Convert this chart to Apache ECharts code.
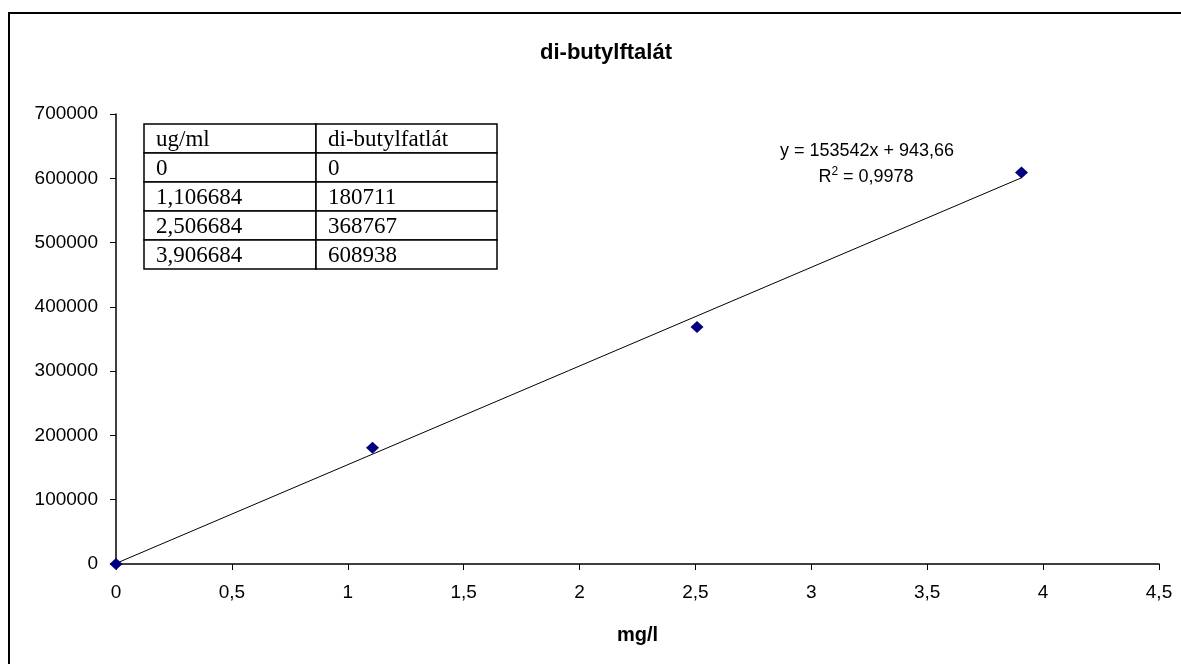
<!DOCTYPE html>
<html>
<head>
<meta charset="utf-8">
<title>di-butylftalát</title>
<script src="https://cdn.jsdelivr.net/npm/echarts@6/dist/echarts.min.js"></script>
<style>
  html, body { margin: 0; padding: 0; background: #fff; }
  #chart { width: 1181px; height: 664px; }
</style>
</head>
<body>
<div id="chart"></div>
<script>
// kalibrace: koncentrace vs. plocha piku
const concentrations = [0, 1.106684, 2.506684, 3.906684];
const responses = [0, 180711, 368767, 608938];
const tableHeader = ['ug/ml', 'di-butylfatlát'];
// lineární trend (z grafu)
const trendSlope = 153542;
const trendIntercept = 943.66;
const trendR2 = 0.9978;

const sans = 'Arial, "Liberation Sans", sans-serif';
const serif = '"Times New Roman", "Liberation Serif", serif';
const comma = v => String(v).replace('.', ',');

let myChart = echarts.init(document.getElementById('chart'));

// trend line from min x to max x
let xMin = Math.min(...concentrations);
let xMax = Math.max(...concentrations);
let trendData = [
  [xMin, trendSlope * xMin + trendIntercept],
  [xMax, trendSlope * xMax + trendIntercept]
];

// table drawn as graphic
let tbl = { left: 144, top: 124, split: 316, right: 497, rowH: 29 };
let rows = [tableHeader].concat(concentrations.map((c, i) => [comma(c), String(responses[i])]));
let tableEls = [];
rows.forEach((r, i) => {
  let y = tbl.top + i * tbl.rowH;
  [[tbl.left, tbl.split], [tbl.split, tbl.right]].forEach((col, j) => {
    tableEls.push({
      type: 'rect',
      shape: { x: col[0], y: y, width: col[1] - col[0], height: tbl.rowH },
      style: { fill: '#fff', stroke: '#000', lineWidth: 1.5 }
    });
    tableEls.push({
      type: 'text',
      x: col[0] + 12,
      y: y + tbl.rowH / 2 + 1,
      style: {
        text: r[j],
        font: '23px ' + serif,
        fill: '#000',
        verticalAlign: 'middle'
      }
    });
  });
});

let option = {
  animation: false,
  backgroundColor: '#fff',
  title: {
    text: 'di-butylftalát',
    left: 601,
    top: 37,
    textAlign: 'center',
    textStyle: {
      fontFamily: sans,
      fontSize: 22,
      fontWeight: 'bold',
      color: '#000'
    }
  },
  grid: {
    left: 116,
    top: 114,
    width: 1043,
    height: 450
  },
  xAxis: {
    type: 'value',
    min: 0,
    max: 4.5,
    interval: 0.5,
    name: 'mg/l',
    nameLocation: 'middle',
    nameGap: 61,
    nameTextStyle: {
      fontFamily: sans,
      fontSize: 20,
      fontWeight: 'bold',
      color: '#000'
    },
    axisLine: { lineStyle: { color: '#000', width: 1.5 } },
    axisTick: { length: 6, lineStyle: { color: '#000', width: 1 } },
    axisLabel: {
      margin: 19,
      fontFamily: sans,
      fontSize: 19,
      color: '#000',
      formatter: comma
    },
    splitLine: { show: false }
  },
  yAxis: {
    type: 'value',
    min: 0,
    max: 700000,
    interval: 100000,
    axisLine: { show: true, lineStyle: { color: '#000', width: 1.5 } },
    axisTick: { show: true, length: 6, lineStyle: { color: '#000', width: 1 } },
    axisLabel: {
      margin: 18,
      fontFamily: sans,
      fontSize: 19,
      color: '#000',
      formatter: v => String(v)
    },
    splitLine: { show: false }
  },
  series: [{
    name: 'trend',
    type: 'line',
    data: trendData,
    symbol: 'none',
    lineStyle: { color: '#000', width: 1 },
    z: 2
  }, {
    name: 'di-butylftalát',
    type: 'scatter',
    data: concentrations.map((c, i) => [c, responses[i]]),
    symbol: 'diamond',
    symbolSize: [13, 12],
    itemStyle: { color: '#000080', opacity: 1 },
    z: 3
  }],
  graphic: [{
    type: 'line',
    shape: { x1: 8, y1: 13, x2: 1181, y2: 13 },
    style: { stroke: '#000', lineWidth: 2 }
  }, {
    type: 'line',
    shape: { x1: 9, y1: 12, x2: 9, y2: 664 },
    style: { stroke: '#000', lineWidth: 2 }
  }, {
    type: 'text',
    x: 867,
    y: 151,
    style: {
      text: 'y = ' + trendSlope + 'x + ' + comma(trendIntercept),
      font: '18px ' + sans,
      fill: '#000',
      align: 'center',
      verticalAlign: 'middle'
    }
  }, {
    type: 'text',
    x: 866,
    y: 176,
    style: {
      text: '{r|R}{s|2}{r| = ' + comma(trendR2) + '}',
      rich: {
        r: { font: '18px ' + sans, fill: '#000', verticalAlign: 'bottom' },
        s: { font: '12px ' + sans, fill: '#000', verticalAlign: 'top', padding: [0, 0, 8, 0] }
      },
      align: 'center',
      verticalAlign: 'middle'
    }
  }, {
    type: 'group',
    children: tableEls
  }]
};

myChart.setOption(option, true);

window.addEventListener('resize', () => {
  myChart.resize();
});
</script>
</body>
</html>
